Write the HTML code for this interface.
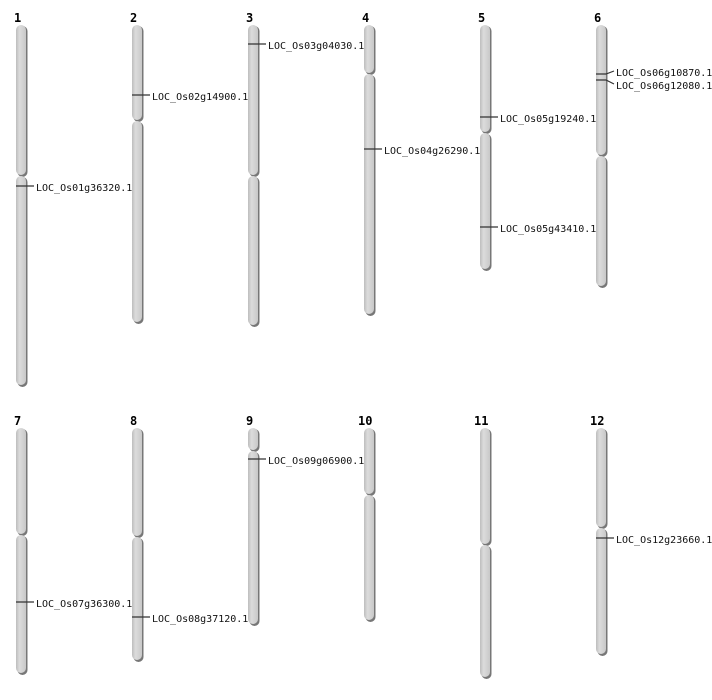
<!DOCTYPE html>
<html><head><style>body{margin:0;background:#fff}svg{display:block}</style></head><body>
<svg width="712" height="700" xmlns="http://www.w3.org/2000/svg" font-family="'DejaVu Sans Mono','Liberation Mono',monospace">
<defs>
<linearGradient id="g" x1="0" x2="1" y1="0" y2="0">
<stop offset="0" stop-color="#bdbdbd"/><stop offset="0.35" stop-color="#dcdcdc"/><stop offset="1" stop-color="#c8c8c8"/>
</linearGradient>
</defs>
<g font-size="12" font-weight="bold" fill="#000">
<text x="14" y="22">1</text><text x="130" y="22">2</text><text x="246" y="22">3</text><text x="362" y="22">4</text><text x="478" y="22">5</text><text x="594" y="22">6</text>
<text x="14" y="425">7</text><text x="130" y="425">8</text><text x="246" y="425">9</text><text x="358" y="425">10</text><text x="474" y="425">11</text><text x="590" y="425">12</text>
</g>
<g fill="#777">
<rect x="17.5" y="26" width="10" height="151" rx="5"/><rect x="17.5" y="177" width="10" height="210" rx="5"/>
<rect x="133.5" y="26" width="10" height="96" rx="5"/><rect x="133.5" y="122" width="10" height="202" rx="5"/>
<rect x="249.5" y="26" width="10" height="151" rx="5"/><rect x="249.5" y="177" width="10" height="150" rx="5"/>
<rect x="365.5" y="26" width="10" height="49" rx="5"/><rect x="365.5" y="75" width="10" height="241" rx="5"/>
<rect x="481.5" y="26" width="10" height="108" rx="5"/><rect x="481.5" y="134" width="10" height="137" rx="5"/>
<rect x="597.5" y="26" width="10" height="131" rx="5"/><rect x="597.5" y="157" width="10" height="131" rx="5"/>
<rect x="17.5" y="429" width="10" height="107" rx="5"/><rect x="17.5" y="536" width="10" height="139" rx="5"/>
<rect x="133.5" y="429" width="10" height="109" rx="5"/><rect x="133.5" y="538" width="10" height="124" rx="5"/>
<rect x="249.5" y="429" width="10" height="23" rx="5"/><rect x="249.5" y="452" width="10" height="174" rx="5"/>
<rect x="365.5" y="429" width="10" height="67" rx="5"/><rect x="365.5" y="496" width="10" height="126" rx="5"/>
<rect x="481.5" y="429" width="10" height="117" rx="5"/><rect x="481.5" y="546" width="10" height="133" rx="5"/>
<rect x="597.5" y="429" width="10" height="100" rx="5"/><rect x="597.5" y="529" width="10" height="127" rx="5"/>
</g>
<g fill="url(#g)">
<rect x="16" y="25" width="10" height="150" rx="5"/><rect x="16" y="176" width="10" height="209" rx="5"/>
<rect x="132" y="25" width="10" height="95" rx="5"/><rect x="132" y="121" width="10" height="201" rx="5"/>
<rect x="248" y="25" width="10" height="150" rx="5"/><rect x="248" y="176" width="10" height="149" rx="5"/>
<rect x="364" y="25" width="10" height="48" rx="5"/><rect x="364" y="74" width="10" height="240" rx="5"/>
<rect x="480" y="25" width="10" height="107" rx="5"/><rect x="480" y="133" width="10" height="136" rx="5"/>
<rect x="596" y="25" width="10" height="130" rx="5"/><rect x="596" y="156" width="10" height="130" rx="5"/>
<rect x="16" y="428" width="10" height="106" rx="5"/><rect x="16" y="535" width="10" height="138" rx="5"/>
<rect x="132" y="428" width="10" height="108" rx="5"/><rect x="132" y="537" width="10" height="123" rx="5"/>
<rect x="248" y="428" width="10" height="22" rx="5"/><rect x="248" y="451" width="10" height="173" rx="5"/>
<rect x="364" y="428" width="10" height="66" rx="5"/><rect x="364" y="495" width="10" height="125" rx="5"/>
<rect x="480" y="428" width="10" height="116" rx="5"/><rect x="480" y="545" width="10" height="132" rx="5"/>
<rect x="596" y="428" width="10" height="99" rx="5"/><rect x="596" y="528" width="10" height="126" rx="5"/>
</g>
<g stroke="#333" stroke-width="1.2" fill="none">
<polyline points="16,186 34,186"/><polyline points="132,95 150,95"/><polyline points="248,44 266,44"/>
<polyline points="364,149 382,149"/><polyline points="480,117 498,117"/><polyline points="480,227 498,227"/>
<polyline points="596,74 606,74 614,71"/><polyline points="596,80 606,80 614,84"/>
<polyline points="16,602 34,602"/><polyline points="132,617 150,617"/><polyline points="248,459 266,459"/>
<polyline points="596,538 614,538"/>
</g>
<g font-size="10" fill="#111">
<text x="36" y="191">LOC_Os01g36320.1</text>
<text x="152" y="100">LOC_Os02g14900.1</text>
<text x="268" y="49">LOC_Os03g04030.1</text>
<text x="384" y="154">LOC_Os04g26290.1</text>
<text x="500" y="122">LOC_Os05g19240.1</text>
<text x="500" y="232">LOC_Os05g43410.1</text>
<text x="616" y="76">LOC_Os06g10870.1</text>
<text x="616" y="89">LOC_Os06g12080.1</text>
<text x="36" y="607">LOC_Os07g36300.1</text>
<text x="152" y="622">LOC_Os08g37120.1</text>
<text x="268" y="464">LOC_Os09g06900.1</text>
<text x="616" y="543">LOC_Os12g23660.1</text>
</g>
</svg>
</body></html>
